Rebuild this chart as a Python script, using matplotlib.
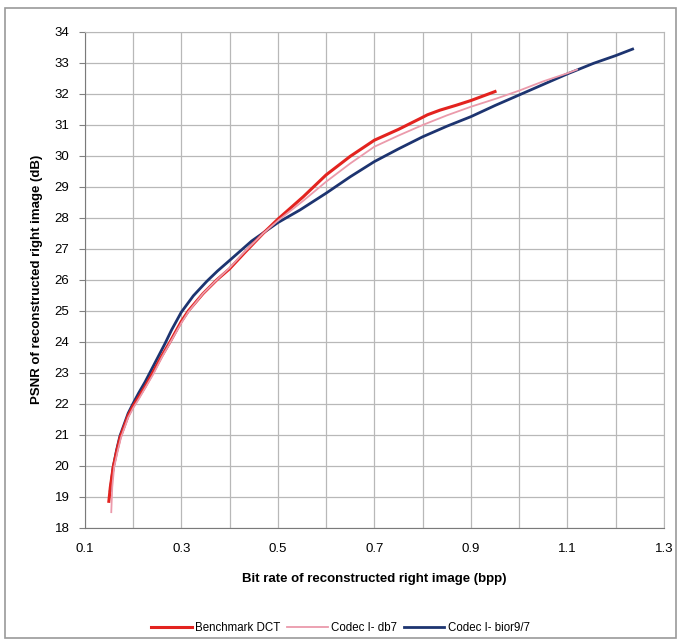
import matplotlib.pyplot as plt
from matplotlib.patches import Rectangle

plt.rcParams['font.family'] = ['Liberation Sans', 'DejaVu Sans']

# Benchmark DCT
dct_x = [0.15, 0.153, 0.159, 0.166, 0.173, 0.19, 0.2, 0.212, 0.225, 0.241, 0.26, 0.277,
         0.3, 0.315, 0.345, 0.374, 0.4, 0.43, 0.47, 0.5, 0.553, 0.6, 0.65, 0.7, 0.75,
         0.795, 0.81, 0.836, 0.87, 0.9, 0.95]
dct_y = [18.85, 19.3, 19.95, 20.45, 20.9, 21.62, 21.92, 22.22, 22.55, 23.0, 23.55, 24.0,
         24.65, 25.0, 25.55, 26.0, 26.35, 26.85, 27.5, 27.95, 28.68, 29.38, 29.98, 30.5, 30.85,
         31.2, 31.32, 31.47, 31.63, 31.78, 32.07]

# Codec I- db7
db7_x = [0.155, 0.157, 0.161, 0.168, 0.175, 0.19, 0.2, 0.212, 0.225, 0.242, 0.26, 0.28,
         0.3, 0.315, 0.345, 0.374, 0.4, 0.43, 0.47, 0.5, 0.553, 0.6, 0.65, 0.7, 0.75,
         0.8, 0.85, 0.9, 0.954, 1.0, 1.05, 1.1, 1.12]
db7_y = [18.5, 19.3, 19.95, 20.45, 20.9, 21.55, 21.85, 22.15, 22.5, 22.95, 23.5, 24.05,
         24.6, 24.97, 25.55, 26.0, 26.38, 26.88, 27.5, 27.9, 28.55, 29.16, 29.75, 30.29, 30.65,
         30.99, 31.3, 31.58, 31.85, 32.1, 32.4, 32.66, 32.78]

# Codec I- bior9/7
bior_x = [0.153, 0.159, 0.166, 0.173, 0.19, 0.2, 0.212, 0.225, 0.235, 0.25, 0.266, 0.28,
          0.3, 0.325, 0.353, 0.375, 0.4, 0.446, 0.5, 0.546, 0.6, 0.65, 0.7, 0.75, 0.8,
          0.85, 0.9, 0.95, 1.0, 1.05, 1.1, 1.154, 1.2, 1.235]
bior_y = [19.2, 19.95, 20.5, 20.96, 21.69, 22.0, 22.35, 22.7, 23.0, 23.45, 23.93, 24.38,
          24.95, 25.48, 25.95, 26.28, 26.62, 27.25, 27.84, 28.25, 28.79, 29.32, 29.81, 30.22, 30.61,
          30.95, 31.26, 31.62, 31.96, 32.3, 32.64, 32.98, 33.23, 33.44]

x_grid = [round(0.1 + 0.1 * i, 1) for i in range(13)]
x_ticks = [0.1, 0.3, 0.5, 0.7, 0.9, 1.1, 1.3]
y_ticks = list(range(18, 35))

fig = plt.figure(figsize=(6.81, 6.41), dpi=100)
ax = fig.add_axes([0.1244, 0.1768, 0.8506, 0.7737])

ax.plot(dct_x, dct_y, color='#e3231f', lw=2.2, label='Benchmark DCT', zorder=3)
ax.plot(db7_x, db7_y, color='#eb9aab', lw=1.3, label='Codec I- db7', zorder=4)
ax.plot(bior_x, bior_y, color='#1d3470', lw=2.0, label='Codec I- bior9/7', zorder=2)

ax.set_xlim(0.1, 1.3)
ax.set_ylim(18, 34)
ax.set_xticks(x_grid)
ax.set_xticklabels(['%.1f' % v if v in x_ticks else '' for v in x_grid])
ax.set_yticks(y_ticks)
ax.grid(True, color='#b8b8b8', lw=0.9)
ax.tick_params(axis='both', labelsize=9.5, color='#808080', length=4, pad=7)
ax.tick_params(axis='x', length=0, pad=11)

for s in ['top', 'right']:
    ax.spines[s].set_color('#b8b8b8')
for s in ['left', 'bottom']:
    ax.spines[s].set_color('#7a7a7a')

ax.set_xlabel('Bit rate of reconstructed right image (bpp)', fontsize=9.5,
              fontweight='bold', labelpad=13)
ax.set_ylabel('PSNR of reconstructed right image (dB)', fontsize=9.5,
              fontweight='bold', labelpad=8)

fig.legend(loc='center', bbox_to_anchor=(0.5, 0.02), ncol=3, frameon=False,
           fontsize=8.3, handlelength=3.5, columnspacing=0.6, handletextpad=0.3)

fig.patches.append(Rectangle((0.008, 0.005), 0.984, 0.982, transform=fig.transFigure,
                             fill=False, edgecolor='#9a9a9a', lw=1.2))

fig.savefig('out.png', dpi=100)
